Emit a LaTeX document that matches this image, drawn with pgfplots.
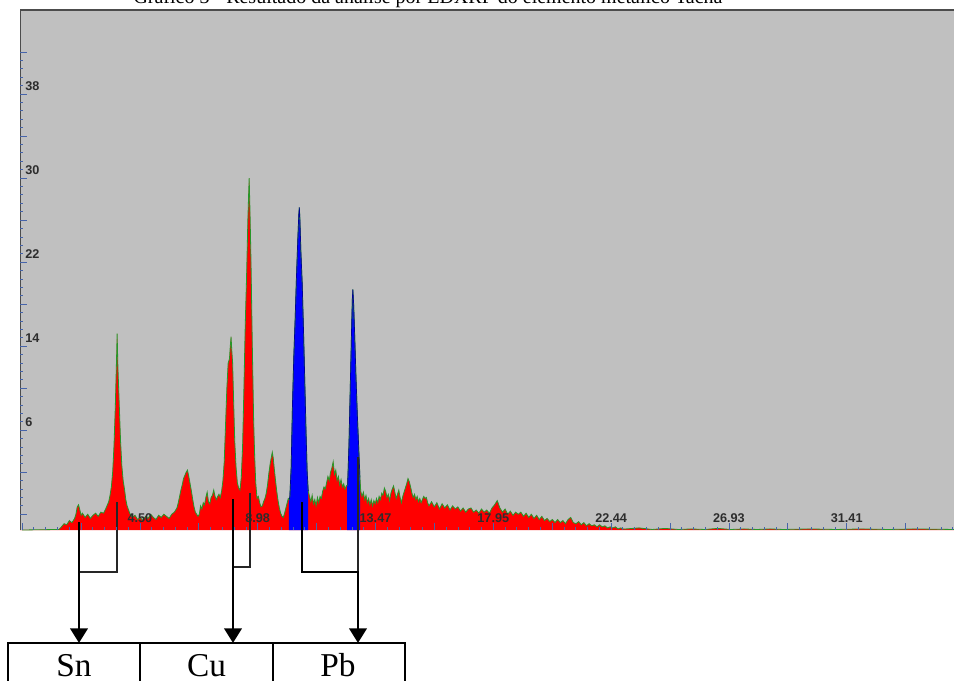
\documentclass[border=0pt]{standalone}
\usepackage{pgfplots}
\pgfplotsset{compat=1.18}
\usepackage{pgfplotstable}
\usepgfplotslibrary{fillbetween}
\usepackage{fontspec}
\setmainfont{Liberation Serif}
\setsansfont{Liberation Sans}
\usetikzlibrary{arrows.meta}

\definecolor{panel}{RGB}{192,192,192}
\definecolor{spline}{RGB}{40,150,40}
\definecolor{tickc}{RGB}{70,100,170}
\definecolor{labc}{RGB}{45,45,45}

% EDXRF spectrum: energy (keV), counts in chart units
\pgfplotstableread{
x y
0.0 -3.5
1.4 -3.45
1.5 -3.2
1.6 -2.9
1.7 -3.0
1.8 -2.6
1.9 -2.8
2.0 -2.4
2.05 -2.0
2.1 -1.3
2.15 -1.1
2.2 -1.6
2.25 -2.1
2.3 -1.9
2.4 -2.3
2.5 -2.0
2.6 -2.4
2.7 -2.1
2.8 -1.9
2.9 -2.2
3.0 -1.8
3.1 -1.9
3.2 -1.4
3.3 -0.8
3.35 -0.2
3.4 0.6
3.45 2.0
3.5 4.5
3.55 8.2
3.6 13.0
3.62 15.2
3.65 12.0
3.7 8.5
3.75 5.0
3.8 2.6
3.85 1.2
3.9 0.4
3.95 -0.6
4.0 -1.2
4.1 -1.9
4.2 -2.3
4.3 -2.1
4.4 -2.5
4.5 -2.3
4.6 -2.6
4.7 -2.2
4.8 -2.4
4.9 -2.0
5.0 -2.3
5.1 -2.5
5.2 -2.1
5.3 -2.3
5.4 -2.0
5.5 -2.2
5.6 -2.4
5.7 -2.0
5.8 -1.8
5.9 -1.4
5.95 -0.9
6.0 -0.3
6.05 0.3
6.1 0.8
6.15 1.4
6.2 1.7
6.25 2.0
6.3 2.2
6.35 1.6
6.4 0.9
6.45 0.2
6.5 -0.6
6.55 -1.3
6.6 -1.8
6.7 -2.2
6.75 -2.0
6.8 -1.2
6.85 -1.5
6.9 -0.9
6.95 -1.1
7.0 -0.4
7.05 0.1
7.1 -0.8
7.15 -1.0
7.2 -0.4
7.25 -0.2
7.3 0.3
7.35 -0.3
7.4 -0.6
7.45 -0.3
7.5 -0.1
7.55 -0.4
7.6 0.2
7.65 1.2
7.7 3.0
7.75 6.5
7.8 10.0
7.85 12.4
7.9 12.8
7.93 14.0
7.96 14.9
7.99 13.5
8.02 12.4
8.05 9.5
8.1 5.0
8.15 2.5
8.2 1.0
8.25 0.5
8.3 0.3
8.35 1.5
8.4 4.5
8.45 10.0
8.5 16.0
8.55 20.5
8.6 26.0
8.63 28.5
8.65 30.0
8.68 27.0
8.72 22.0
8.77 14.0
8.82 7.0
8.86 3.5
8.9 1.0
8.95 -0.5
9.0 -0.3
9.05 -0.9
9.1 -1.3
9.15 -1.2
9.2 -0.8
9.25 -0.5
9.3 0.0
9.35 0.8
9.4 1.9
9.45 2.8
9.5 3.5
9.53 3.9
9.57 3.3
9.6 2.5
9.65 1.3
9.7 0.2
9.75 -0.7
9.8 -1.4
9.85 -1.9
9.9 -2.2
9.95 -2.3
10.0 -1.9
10.05 -1.4
10.1 -0.9
10.14 -0.5
10.18 -0.6
10.2 -0.3
10.25 2.5
10.3 8.5
10.35 13.0
10.4 16.5
10.45 20.5
10.5 24.0
10.54 26.5
10.56 27.2
10.58 26.3
10.62 23.0
10.67 20.0
10.72 15.5
10.77 10.5
10.82 5.5
10.86 2.0
10.9 0.2
10.95 -0.3
11.0 -0.8
11.05 -0.2
11.1 -1.0
11.15 -0.6
11.2 -1.2
11.25 -0.4
11.3 -0.9
11.35 -0.3
11.4 -0.5
11.45 0.2
11.5 0.6
11.55 0.4
11.6 1.0
11.65 1.6
11.7 1.2
11.75 2.0
11.8 2.4
11.85 3.0
11.9 1.8
11.95 2.2
12.0 1.2
12.05 1.6
12.1 0.8
12.15 1.3
12.2 0.6
12.25 0.9
12.3 0.4
12.35 0.7
12.4 0.8
12.45 4.5
12.5 10.0
12.55 15.5
12.58 18.5
12.6 19.4
12.63 18.0
12.67 15.0
12.72 11.0
12.77 7.5
12.82 4.5
12.87 1.5
12.9 0.2
12.95 -0.3
13.0 0.1
13.05 -0.6
13.1 -0.2
13.15 -0.9
13.2 -0.5
13.25 -1.1
13.3 -0.6
13.35 -1.2
13.4 -0.7
13.45 -1.0
13.5 -0.5
13.55 -0.9
13.6 -0.3
13.65 -0.6
13.7 0.0
13.75 -0.2
13.8 0.5
13.85 0.2
13.9 -0.4
13.95 -0.1
14.0 -0.7
14.05 0.0
14.1 0.4
14.15 0.7
14.2 0.1
14.25 -0.5
14.3 -0.1
14.35 0.3
14.4 -0.4
14.45 -0.9
14.5 -0.3
14.55 0.1
14.6 0.5
14.65 0.9
14.7 1.4
14.75 1.1
14.8 0.6
14.85 0.0
14.9 -0.4
14.95 -0.1
15.0 -0.6
15.05 -0.3
15.1 -0.8
15.15 -0.5
15.2 -0.9
15.25 -0.6
15.3 -0.3
15.35 -0.5
15.4 -0.4
15.45 -0.9
15.5 -1.2
15.6 -0.8
15.7 -1.3
15.8 -0.9
15.9 -1.5
16.0 -1.0
16.1 -1.4
16.2 -1.1
16.3 -1.6
16.4 -1.2
16.5 -1.5
16.6 -1.3
16.7 -1.7
16.8 -1.4
16.9 -1.8
17.0 -1.5
17.1 -1.4
17.2 -1.8
17.3 -1.6
17.4 -1.9
17.5 -1.5
17.6 -1.8
17.7 -1.6
17.8 -1.9
17.9 -1.4
18.0 -1.1
18.1 -0.7
18.2 -1.4
18.3 -1.8
18.4 -1.5
18.5 -2.0
18.6 -1.7
18.7 -2.1
18.8 -1.8
18.9 -2.0
19.0 -1.8
19.1 -2.2
19.2 -1.9
19.3 -2.3
19.4 -2.0
19.5 -2.4
19.6 -2.1
19.7 -2.5
19.8 -2.2
19.9 -2.6
20.0 -2.4
20.1 -2.7
20.2 -2.5
20.3 -2.8
20.4 -2.5
20.5 -2.8
20.6 -2.6
20.7 -2.9
20.8 -2.5
20.9 -2.3
21.0 -2.8
21.1 -2.9
21.2 -2.7
21.3 -3.0
21.4 -2.8
21.5 -3.1
21.6 -2.9
21.7 -3.1
21.8 -3.0
21.9 -3.2
22.0 -3.0
22.1 -3.2
22.2 -3.1
22.3 -3.3
22.4 -3.2
22.5 -3.3
22.6 -3.2
22.7 -3.4
22.8 -3.3
22.9 -3.4
23.0 -3.4
23.5 -3.3
24.0 -3.45
24.5 -3.35
25.0 -3.45
25.5 -3.4
26.0 -3.45
26.5 -3.35
27.0 -3.45
27.5 -3.4
28.0 -3.45
28.5 -3.4
29.0 -3.45
30.0 -3.4
31.0 -3.45
32.0 -3.4
33.0 -3.45
34.0 -3.4
35.5 -3.45
}\spec

\begin{document}
\begin{tikzpicture}
\begin{axis}[
    at={(15pt,-397.5pt)}, anchor=south west,
    scale only axis,
    width=700.5pt, height=390pt,
    xmin=-0.08, xmax=35.5,
    ymin=-3.5, ymax=46,
    axis background/.style={fill=panel},
    axis line style={draw=none},
    axis on top,
    tick align=inside,
    tick pos=left,
    tick style={draw=tickc, line width=0.6pt},
    major tick length=5pt,
    minor tick length=2.5pt,
    xtick={0,2.24375,...,35.4},
    xticklabels={,,4.50,,8.98,,13.47,,17.95,,22.44,,26.93,,31.41,},
    minor x tick num=4,
    ytick={-2,2,...,42},
    yticklabels={,,6,,14,,22,,30,,38,},
    minor y tick num=4,
    ticklabel style={font=\fontsize{9.5}{10}\selectfont\sffamily\bfseries, text=labc},
    xticklabel style={anchor=south, yshift=2pt},
    yticklabel style={anchor=south west, xshift=0.5pt, yshift=-1pt},
]
\addplot[name path=spec, draw=none] table {\spec};
\path[name path=base] (axis cs:-0.08,-3.5) -- (axis cs:35.5,-3.5);
\addplot[draw=none, fill=red] fill between[of=spec and base];
\addplot[spline, line width=0.6pt] table {\spec};
\addplot[draw=none, fill=blue] fill between[of=spec and base, soft clip={domain=10.16:10.9}];
\addplot[draw=none, fill=blue] fill between[of=spec and base, soft clip={domain=12.38:12.88}];
\addplot[blue!60!black, line width=0.5pt, restrict x to domain=10.16:10.9] table {\spec};
\addplot[blue!60!black, line width=0.5pt, restrict x to domain=12.38:12.88] table {\spec};
\draw[gray!60!black, line width=1.2pt] (rel axis cs:0,0) -- (rel axis cs:0,1) -- (rel axis cs:1,1);
\end{axis}

\begin{scope}[x=0.75pt, y=-0.75pt]
  % title, partly cut at the top edge
  \node[anchor=base, font=\fontsize{15}{17}\selectfont] at (428,3.5)
    {Gráfico 3 - Resultado da análise por EDXRF do elemento metálico Tacha};

  % connectors
  \tikzset{thin conn/.style={line width=0.9pt, black!85},
           thick conn/.style={line width=2.2pt, -{Triangle[width=13pt,length=11pt]}}}
  % Sn
  \draw[thin conn] (117,502) -- (117,572) -- (79,572);
  \draw[thick conn] (79,522) -- (79,643);
  % Cu
  \draw[thin conn] (250,493) -- (250,567) -- (233,567);
  \draw[thick conn] (233,499) -- (233,643);
  % Pb
  \draw[thin conn] (358,457) -- (358,572);
  \draw[thick conn] (302,502) -- (302,572) -- (358,572) -- (358,643);

  % element table
  \draw[line width=1.5pt] (8,700) -- (8,643) -- (405,643) -- (405,700);
  \draw[line width=1.5pt] (140,643) -- (140,700);
  \draw[line width=1.5pt] (273,643) -- (273,700);
  \node[anchor=base, font=\fontsize{25}{28}\selectfont] at (74,676) {Sn};
  \node[anchor=base, font=\fontsize{25}{28}\selectfont] at (206.5,676) {Cu};
  \node[anchor=base, font=\fontsize{25}{28}\selectfont] at (338,676) {Pb};

  \pgfresetboundingbox
  \useasboundingbox (0,0) rectangle (954,681);
\end{scope}
\end{tikzpicture}
\end{document}
